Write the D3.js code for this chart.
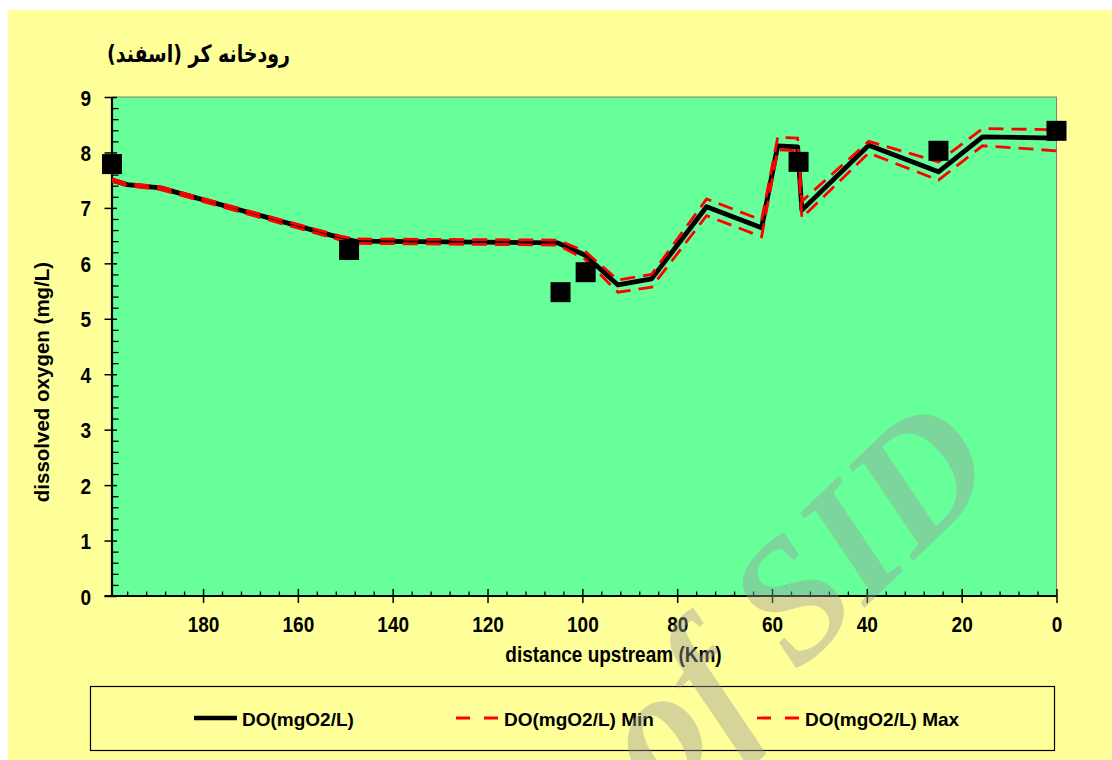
<!DOCTYPE html>
<html>
<head>
<meta charset="utf-8">
<script src="https://cdn.jsdelivr.net/npm/d3@7"></script>
<style>
  body { margin: 0; background: #ffffff; }
  svg text { font-family: "Liberation Sans", Arial, sans-serif; font-weight: bold; fill: #000; }
</style>
</head>
<body>
<div class="chart"></div>
<script>
// distance upstream (km) of the simulated profile points
var kmPoints = [199.2, 196, 189, 151, 148, 105.2, 99.5, 92.5, 85.4, 73.8, 62.2, 58.8, 54.6, 53.7, 39.6, 24.9, 15.6, 0];
var doMain = [7.50, 7.42, 7.36, 6.46, 6.40, 6.37, 6.15, 5.61, 5.72, 7.02, 6.64, 8.12, 8.10, 6.96, 8.13, 7.65, 8.28, 8.26];
var doMin  = [7.48, 7.40, 7.33, 6.42, 6.36, 6.33, 6.08, 5.48, 5.57, 6.86, 6.48, 8.05, 8.03, 6.82, 7.99, 7.50, 8.12, 8.03];
var doMax  = [7.52, 7.44, 7.38, 6.49, 6.44, 6.42, 6.22, 5.70, 5.80, 7.16, 6.78, 8.27, 8.26, 7.12, 8.20, 7.83, 8.43, 8.41];

// measured samples
var obsKm = [199.2, 149.2, 104.6, 99.3, 54.4, 24.9, 0];
var obsDo = [7.79, 6.24, 5.48, 5.84, 7.83, 8.03, 8.39];

var xTicks = [180, 160, 140, 120, 100, 80, 60, 40, 20, 0];
var yTicks = [0, 1, 2, 3, 4, 5, 6, 7, 8, 9];

var titleText = "رودخانه کر (اسفند)";
var xTitle = "distance upstream (Km)";
var yTitle = "dissolved oxygen (mg/L)";
var legendNames = ["DO(mgO2/L)", "DO(mgO2/L) Min", "DO(mgO2/L) Max"];

var svgWidth = 1112;
var svgHeight = 760;

var plot = { left: 112, top: 97, right: 1056.5, bottom: 596 };
var stretch = 1.2;   // tick labels look vertically stretched in the original

var svg = d3.select(".chart")
  .append("svg")
  .attr("width", svgWidth)
  .attr("height", svgHeight);

// chart background
svg.append("rect")
  .attr("x", 8).attr("y", 10)
  .attr("width", svgWidth - 8).attr("height", svgHeight - 10)
  .attr("fill", "#ffff99");

var xScale = d3.scaleLinear()
  .domain([199.2, 0])
  .range([plot.left, plot.right]);

var yScale = d3.scaleLinear()
  .domain([0, 9])
  .range([plot.bottom, plot.top]);

// plot area
svg.append("rect")
  .attr("x", plot.left).attr("y", plot.top)
  .attr("width", plot.right - plot.left).attr("height", plot.bottom - plot.top)
  .attr("fill", "#66ff99")
  .attr("stroke", "#808080")
  .attr("stroke-width", 1);

// minor ticks (inside)
var xMinor = d3.range(4, 199, 4).filter(d => d % 20 !== 0);
svg.append("g")
  .attr("transform", `translate(0, ${plot.bottom})`)
  .call(d3.axisBottom(xScale).tickValues(xMinor).tickSize(-4.5).tickFormat(""))
  .call(g => g.select(".domain").remove())
  .selectAll("line").attr("stroke", "#000").attr("stroke-width", 1.3);

var yMinor = d3.range(0.2, 9, 0.2).filter(d => Math.abs(d - Math.round(d)) > 0.01);
svg.append("g")
  .attr("transform", `translate(${plot.left}, 0)`)
  .call(d3.axisLeft(yScale).tickValues(yMinor).tickSize(-6.5).tickFormat(""))
  .call(g => g.select(".domain").remove())
  .selectAll("line").attr("stroke", "#000").attr("stroke-width", 1.3);

// major x axis
var xAxis = svg.append("g")
  .attr("transform", `translate(0, ${plot.bottom})`)
  .call(d3.axisBottom(xScale).tickValues(xTicks).tickSize(7).tickSizeOuter(0).tickFormat(d3.format("d")));
xAxis.select(".domain").remove();
xAxis.selectAll("line").attr("y1", -7).attr("stroke", "#000").attr("stroke-width", 1.5);
xAxis.selectAll("text")
  .attr("y", null).attr("dy", null)
  .attr("transform", `translate(0, 36) scale(1, ${stretch})`)
  .style("font-size", "19px");

// major y axis
var yAxis = svg.append("g")
  .attr("transform", `translate(${plot.left}, 0)`)
  .call(d3.axisLeft(yScale).tickValues(yTicks).tickSize(7.5).tickSizeOuter(0));
yAxis.select(".domain").remove();
yAxis.selectAll("line").attr("x2", -7.5).attr("x1", 5).attr("stroke", "#000").attr("stroke-width", 1.5);
yAxis.selectAll("text")
  .attr("x", null).attr("dy", null)
  .attr("transform", `translate(-21, 8) scale(1, ${stretch})`)
  .attr("text-anchor", "end")
  .style("font-size", "19px");

// axis lines
svg.append("line")
  .attr("x1", plot.left - 7.5).attr("x2", plot.right)
  .attr("y1", plot.bottom).attr("y2", plot.bottom)
  .attr("stroke", "#000").attr("stroke-width", 2.2);
svg.append("line")
  .attr("x1", plot.left).attr("x2", plot.left)
  .attr("y1", plot.top).attr("y2", plot.bottom)
  .attr("stroke", "#000").attr("stroke-width", 2.2);

// series
function seriesPoints(values) {
  return kmPoints.map((k, i) => [xScale(k), yScale(values[i])]);
}
var line = d3.line();

svg.append("path")
  .attr("d", line(seriesPoints(doMain)))
  .attr("fill", "none")
  .attr("stroke", "#000")
  .attr("stroke-width", 4.8)
  .attr("stroke-linejoin", "round");

[doMin, doMax].forEach(function(values) {
  svg.append("path")
    .attr("d", line(seriesPoints(values)))
    .attr("fill", "none")
    .attr("stroke", "#ff0000")
    .attr("stroke-width", 2.8)
    .attr("stroke-dasharray", "15,8");
});

// observed squares
svg.selectAll(".obs")
  .data(obsKm)
  .enter()
  .append("rect")
  .attr("class", "obs")
  .attr("x", (d, i) => xScale(d) - 10)
  .attr("y", (d, i) => yScale(obsDo[i]) - 10)
  .attr("width", 20)
  .attr("height", 20)
  .attr("fill", "#000");

// titles
svg.append("text")
  .attr("transform", "translate(290, 62) scale(1, 1.25)")
  .attr("direction", "rtl")
  .attr("text-anchor", "start")
  .style("font-family", "'DejaVu Sans', sans-serif")
  .style("font-size", "19px")
  .text(titleText);

svg.append("text")
  .attr("transform", `translate(613.5, 662) scale(1, ${stretch})`)
  .attr("text-anchor", "middle")
  .style("font-size", "19px")
  .text(xTitle);

svg.append("text")
  .attr("transform", "translate(49, 382) rotate(-90)")
  .attr("text-anchor", "middle")
  .style("font-size", "20.5px")
  .text(yTitle);

// legend
var legend = svg.append("g");
legend.append("rect")
  .attr("x", 90.5).attr("y", 686.5)
  .attr("width", 964).attr("height", 64)
  .attr("fill", "none")
  .attr("stroke", "#000")
  .attr("stroke-width", 1.2);

var legendX = [194, 456, 757];
legendNames.forEach(function(name, i) {
  legend.append("line")
    .attr("x1", legendX[i]).attr("x2", legendX[i] + 43)
    .attr("y1", 718).attr("y2", 718)
    .attr("stroke", i === 0 ? "#000" : "#ff0000")
    .attr("stroke-width", i === 0 ? 4.5 : 2.8)
    .attr("stroke-dasharray", i === 0 ? null : "14,14");
  legend.append("text")
    .attr("x", legendX[i] + 48)
    .attr("y", 726)
    .style("font-size", "19px")
    .text(name);
});

// source watermark (cut by the bottom edge, as in the original)
svg.append("text")
  .attr("transform", "translate(1003, 474) rotate(-44)")
  .attr("text-anchor", "end")
  .style("font-family", "'Liberation Serif', serif")
  .style("font-style", "italic")
  .style("font-size", "172px")
  .style("fill", "rgb(156,156,156)")
  .style("fill-opacity", 0.42)
  .text("of SID");
</script>
</body>
</html>
